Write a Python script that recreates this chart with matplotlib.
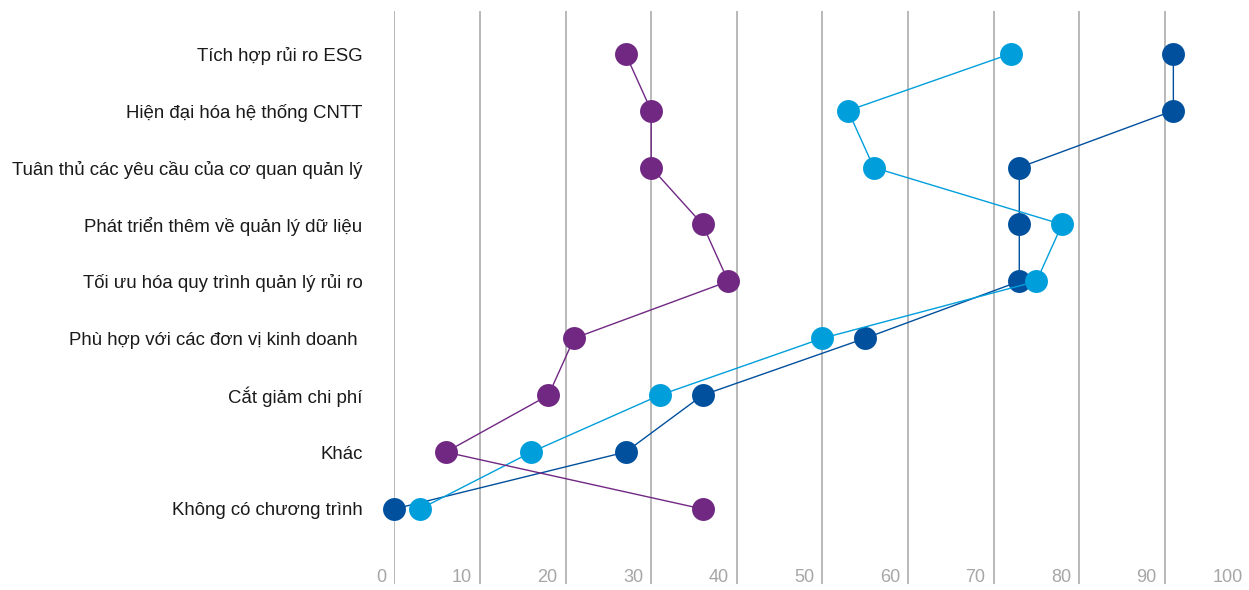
import matplotlib.pyplot as plt
from matplotlib.transforms import ScaledTranslation, blended_transform_factory

plt.rcParams['font.family'] = ['Liberation Sans', 'DejaVu Sans']

categories = [
    'Tích hợp rủi ro ESG',
    'Hiện đại hóa hệ thống CNTT',
    'Tuân thủ các yêu cầu của cơ quan quản lý',
    'Phát triển thêm về quản lý dữ liệu',
    'Tối ưu hóa quy trình quản lý rủi ro',
    'Phù hợp với các đơn vị kinh doanh ',
    'Cắt giảm chi phí',
    'Khác',
    'Không có chương trình',
]

# three series
dark_blue = [91, 91, 73, 73, 73, 55, 36, 27, 0]
light_blue = [72, 53, 56, 78, 75, 50, 31, 16, 3]
purple = [27, 30, 30, 36, 39, 21, 18, 6, 36]

x_ticks = [0, 10, 20, 30, 40, 50, 60, 70, 80, 90, 100]

fig = plt.figure(figsize=(12.49, 5.90), dpi=100)
ax = fig.add_axes([394.4 / 1249, 6 / 590, (1249 - 394.4) / 1249, 573.3 / 590])

y = list(range(len(categories)))
for vals, col in [(dark_blue, '#00509E'), (light_blue, '#009FDB'), (purple, '#702883')]:
    ax.plot(vals, y, color=col, lw=1.0, marker='o', ms=16.5, mec='none', mfc=col,
            zorder=3, clip_on=False)

ax.set_xlim(0, (1249 - 394.4) / 8.56)
ax.set_ylim(9.318, -0.756)

# vertical gridlines
for t in x_ticks[:-1]:
    ax.axvline(t, color='#A6A6A6', lw=1.1, zorder=1)

# x labels sit inside the bottom of the axes, just left of each gridline
trans = blended_transform_factory(ax.transData, ax.transAxes) + ScaledTranslation(-8 / 100, 0, fig.dpi_scale_trans)
for t in x_ticks:
    ax.text(t, 0.003, str(t), transform=trans, ha='right', va='baseline',
            fontsize=13, color='#A6A6A6')

ax.set_xticks([])
ax.set_yticks(y)
ax.set_yticklabels(categories, fontsize=13.4, color='#1A1A1A')
ax.tick_params(axis='y', length=0, pad=23)

for s in ax.spines.values():
    s.set_visible(False)

fig.savefig('out.png', dpi=100)
